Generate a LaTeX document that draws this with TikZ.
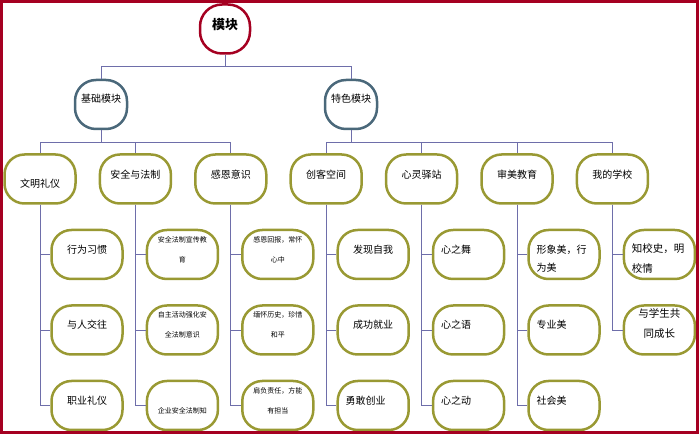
\documentclass[tikz,border=0pt]{standalone}
\usepackage{fontspec}
\newfontfamily\cjk{Noto Sans CJK SC}
\usetikzlibrary{positioning}
\definecolor{crimson}{RGB}{165,0,33}
\definecolor{slate}{RGB}{74,104,122}
\definecolor{moss}{RGB}{153,153,51}
\definecolor{linkblue}{RGB}{110,110,170}

\begin{document}
\begin{tikzpicture}[
    node distance=24pt and 21.9pt,
    topbox/.style={draw=crimson, line width=2.5pt, rounded corners=22pt, minimum width=50pt, minimum height=49pt, font=\cjk\bfseries\fontsize{13pt}{15pt}\selectfont, text depth=9.5pt},
    midbox/.style={draw=slate, line width=2.5pt, rounded corners=21pt, minimum width=52pt, minimum height=49pt, font=\cjk\fontsize{10pt}{12pt}\selectfont, text depth=13pt},
    catbox/.style={draw=moss, line width=2.5pt, rounded corners=20pt, minimum width=71pt, minimum height=49pt, font=\cjk\fontsize{10pt}{12pt}\selectfont, text depth=9pt},
    leafbox/.style={catbox, text depth=11pt},
    smallbox/.style={leafbox, align=center, text depth=, text height=16pt, font=\cjk\fontsize{7pt}{20pt}\selectfont},
    widebox/.style={leafbox, align=center, text depth=, text height=16pt, font=\cjk\fontsize{10.5pt}{20pt}\selectfont},
    leftbox/.style={text width=55pt, align=left},
    link/.style={draw=linkblue, line width=0.8pt},
    frame/.style={draw=crimson, line width=3pt}
]
\useasboundingbox (0,0) rectangle (699pt,-435pt);

\node[topbox] (root) at (225pt,-29pt) {模块};
\node[midbox] (base) at (101pt,-104.5pt) {基础模块};
\node[midbox] (feat) at (351pt,-104.5pt) {特色模块};

% third row
\node[catbox, text height=19pt, text depth=1pt] (wm) at (40pt,-179pt) {文明礼仪};
\node[catbox, right=of wm] (aq) {安全与法制};
\node[catbox, right=of aq] (ge) {感恩意识};
\node[catbox, right=of ge] (ck) {创客空间};
\node[catbox, right=of ck] (xl) {心灵驿站};
\node[catbox, right=of xl] (sm) {审美教育};
\node[catbox, right=of sm] (xx) {我的学校};

% leaves
\node[leafbox, below=of wm, xshift=47pt] (wm1) {行为习惯};
\node[leafbox, below=of wm1] (wm2) {与人交往};
\node[leafbox, below=of wm2] (wm3) {职业礼仪};

\node[smallbox, below=of aq, xshift=47pt] (aq1) {安全法制宣传教\\育};
\node[smallbox, below=of aq1] (aq2) {自主活动强化安\\全法制意识};
\node[smallbox, below=of aq2] (aq3) {企业安全法制知};

\node[smallbox, below=of ge, xshift=47pt] (ge1) {感恩回报，常怀\\心中};
\node[smallbox, below=of ge1] (ge2) {缅怀历史，珍惜\\和平};
\node[smallbox, below=of ge2] (ge3) {肩负责任，方能\\有担当};

\node[leafbox, below=of ck, xshift=47pt] (ck1) {发现自我};
\node[leafbox, below=of ck1] (ck2) {成功就业};
\node[leafbox, leftbox, below=of ck2] (ck3) {勇敢创业};

\node[leafbox, leftbox, below=of xl, xshift=47pt] (xl1) {心之舞};
\node[leafbox, leftbox, below=of xl1] (xl2) {心之语};
\node[leafbox, leftbox, below=of xl2] (xl3) {心之动};

\node[widebox, leftbox, font=\cjk\fontsize{10pt}{18pt}\selectfont, below=of sm, xshift=47pt] (sm1) {形象美，行\\为美};
\node[leafbox, leftbox, below=of sm1] (sm2) {专业美};
\node[leafbox, leftbox, below=of sm2] (sm3) {社会美};

\node[widebox, leftbox, below=of xx, xshift=47pt] (xx1) {知校史，明\\校情};
\node[widebox, below=of xx1] (xx2) {与学生共\\同成长};

% connectors
\draw[link] (root.south) -- ++(0,-12pt) -| (base.north);
\draw[link] (root.south) -- ++(0,-12pt) -| (feat.north);
\foreach \c in {wm,aq,ge}
    \draw[link] (base.south) -- ++(0,-12pt) -| (\c.north);
\foreach \c in {ck,xl,sm,xx}
    \draw[link] (feat.south) -- ++(0,-12pt) -| (\c.north);
\foreach \c/\n in {wm/3,aq/3,ge/3,ck/3,xl/3,sm/3,xx/2}
    \foreach \i in {1,...,\n}
        \draw[link] (\c.south) |- (\c\i.west);

\draw[frame] (1.5pt,-1.5pt) rectangle (697pt,-432.5pt);
\end{tikzpicture}
\end{document}
